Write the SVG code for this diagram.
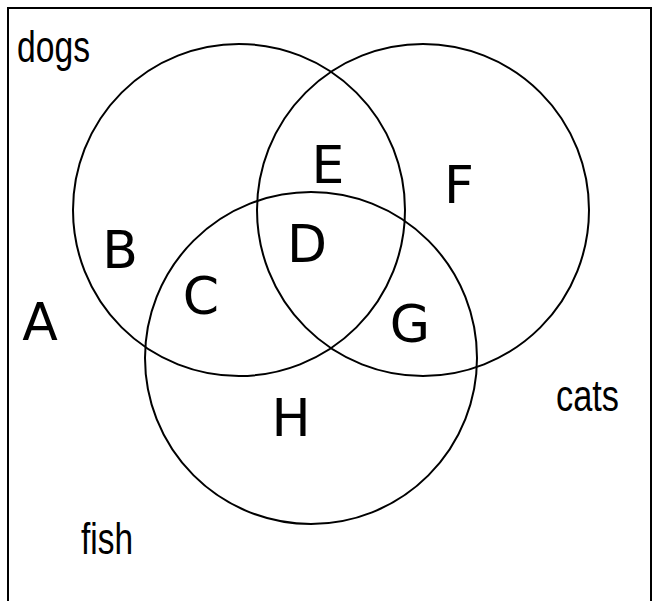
<svg xmlns="http://www.w3.org/2000/svg" width="659" height="601" viewBox="0 0 659 601">
<style>
.set{fill:none;stroke:#000;stroke-width:2}
.lbl{font-family:"Liberation Sans Narrow","Liberation Sans",sans-serif;font-size:44px;fill:#000}
.reg{font-family:"DejaVu Sans","Liberation Sans",sans-serif;font-size:52px;fill:#000;text-anchor:middle}
</style>
<rect width="659" height="601" fill="#fff"/>
<path d="M8,601 V8 H651 V601" fill="none" stroke="#000" stroke-width="2"/>
<g id="dogs">
<circle class="set" cx="239" cy="210" r="166"/>
<text class="lbl" x="17" y="62" textLength="73" lengthAdjust="spacingAndGlyphs">dogs</text>
</g>
<g id="cats">
<circle class="set" cx="423" cy="210" r="166"/>
<text class="lbl" x="556" y="411" textLength="63" lengthAdjust="spacingAndGlyphs">cats</text>
</g>
<g id="fish">
<circle class="set" cx="311" cy="358" r="166"/>
<text class="lbl" x="81" y="554" textLength="52" lengthAdjust="spacingAndGlyphs">fish</text>
</g>
<g id="regions">
<text class="reg" x="40" y="340" font-size="58">A</text>
<text class="reg" x="120" y="268">B</text>
<text class="reg" x="201" y="314">C</text>
<text class="reg" x="307" y="262">D</text>
<text class="reg" x="328" y="183">E</text>
<text class="reg" x="459" y="203">F</text>
<text class="reg" x="410" y="342">G</text>
<text class="reg" x="291" y="436">H</text>
</g>
</svg>
